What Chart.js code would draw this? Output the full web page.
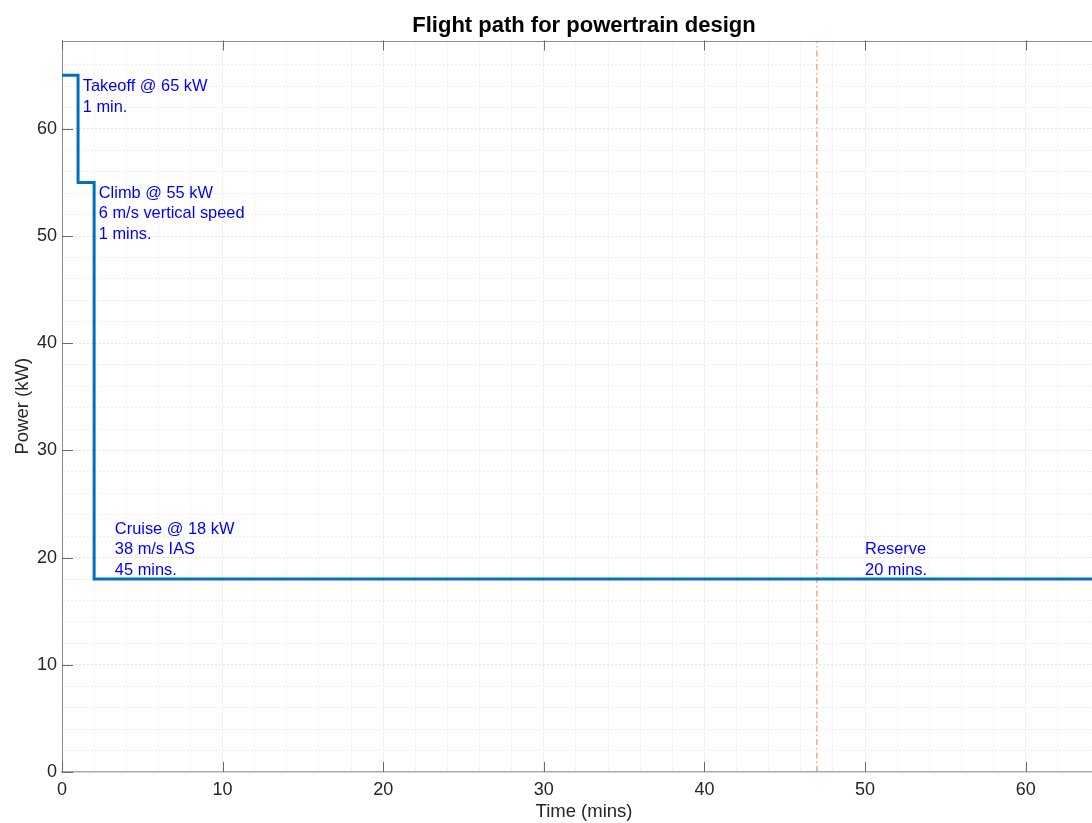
<!DOCTYPE html>
<html>
<head>
<meta charset="utf-8">
<title>Flight path for powertrain design</title>
<script src="https://cdn.jsdelivr.net/npm/chart.js@4.4.1/dist/chart.umd.min.js"></script>
<style>
  html, body { margin: 0; padding: 0; background: #fff; overflow: hidden; }
</style>
</head>
<body>
<canvas id="flightChart" width="1120" height="823"></canvas>
<script>
// Power steps: time (mins) where each level begins, last point closes the trace
const stepTimes = [0, 1, 2, 47, 67];
const stepPower = [65, 55, 18, 18, 18];

// Cruise ends / reserve begins
const reserveTime = 47;

// Labelled major ticks
const xTicks = [0, 10, 20, 30, 40, 50, 60];
const yTicks = [0, 10, 20, 30, 40, 50, 60];

// Phase notes, anchored in data units (left edge, vertical middle of block)
const noteX = [1.29, 2.29, 3.29, 50.0];
const noteY = [63.0, 52.07, 20.74, 19.8];
const noteText = [
    ['Takeoff @ 65 kW', '1 min.'],
    ['Climb @ 55 kW', '6 m/s vertical speed', '1 mins.'],
    ['Cruise @ 18 kW', '38 m/s IAS', '45 mins.'],
    ['Reserve', '20 mins.']
];

const X_MAX = 65;
const Y_MAX = 68.25;
const FONT = "'Liberation Sans', Arial, Helvetica, sans-serif";

Chart.defaults.font.family = FONT;

const flightPoints = stepTimes.map((t, i) => ({ x: t, y: stepPower[i] }));

// faint grid, a bit stronger on the major ticks, none on the frame edges
function gridColor(ctx, max) {
    const v = ctx.tick ? ctx.tick.value : 0;
    if (v <= 0 || v >= max) return 'rgba(0,0,0,0)';
    return v % 10 === 0 ? '#e4e4e4' : '#ededed';
}

// box top edge and inward tick marks
const axesFrame = {
    id: 'axesFrame',
    beforeDatasetsDraw(chart) {
        const { ctx, chartArea: a, scales: { x, y } } = chart;
        ctx.save();
        ctx.lineWidth = 1;
        ctx.strokeStyle = '#8c8c8c';
        ctx.beginPath();
        ctx.moveTo(a.left, Math.round(a.top) + 0.5);
        ctx.lineTo(a.right, Math.round(a.top) + 0.5);
        ctx.stroke();

        ctx.strokeStyle = '#6a6a6a';
        ctx.beginPath();
        xTicks.forEach(v => {
            const px = Math.round(x.getPixelForValue(v)) + 0.5;
            ctx.moveTo(px, a.bottom);
            ctx.lineTo(px, a.bottom - 10);
            ctx.moveTo(px, a.top);
            ctx.lineTo(px, a.top + 10);
        });
        yTicks.forEach(v => {
            const py = Math.round(y.getPixelForValue(v)) + 0.5;
            ctx.moveTo(a.left, py);
            ctx.lineTo(a.left + 11, py);
        });
        ctx.stroke();
        ctx.restore();
    }
};

// blue phase annotations
const phaseNotes = {
    id: 'phaseNotes',
    afterDatasetsDraw(chart) {
        const { ctx, scales: { x, y } } = chart;
        const lineH = 20.5;
        ctx.save();
        ctx.fillStyle = '#0000ff';
        ctx.font = '16.4px ' + FONT;
        ctx.textAlign = 'left';
        ctx.textBaseline = 'middle';
        noteText.forEach((lines, i) => {
            const px = x.getPixelForValue(noteX[i]);
            const cy = y.getPixelForValue(noteY[i]);
            const top = cy - (lines.length - 1) * lineH / 2;
            lines.forEach((txt, j) => ctx.fillText(txt, px, top + j * lineH));
        });
        ctx.restore();
    }
};

const ctx = document.getElementById('flightChart').getContext('2d');
const flightChart = new Chart(ctx, {
    type: 'line',
    data: {
        datasets: [
            {
                label: 'Power',
                data: flightPoints,
                stepped: 'before',
                borderColor: '#0072bd',
                borderWidth: 3,
                borderJoinStyle: 'miter',
                pointRadius: 0,
                fill: false
            },
            {
                label: 'Reserve start',
                data: [{ x: reserveTime, y: 0 }, { x: reserveTime, y: Y_MAX }],
                borderColor: '#e8804f',
                borderWidth: 1,
                borderDash: [6, 3, 1.5, 3],
                pointRadius: 0,
                fill: false
            }
        ]
    },
    options: {
        responsive: false,
        animation: false,
        layout: { padding: { left: 0, right: 14, top: 0, bottom: 0 } },
        plugins: {
            legend: { display: false },
            tooltip: { enabled: false },
            title: {
                display: true,
                fullSize: false,
                text: 'Flight path for powertrain design',
                color: '#000',
                font: { size: 22, weight: 'bold' },
                padding: { top: 12.5, bottom: 1.6 }
            }
        },
        scales: {
            x: {
                type: 'linear',
                min: 0,
                max: X_MAX,
                afterFit: s => { s.height = 51; },
                border: { color: '#ababab', width: 1.5, dash: [2, 2] },
                grid: { color: c => gridColor(c, X_MAX), lineWidth: 1, drawTicks: false },
                ticks: {
                    stepSize: 2,
                    autoSkip: false,
                    maxTicksLimit: 200,
                    maxRotation: 0,
                    padding: 7,
                    color: '#262626',
                    font: { size: 18 },
                    callback: v => (v % 10 === 0 ? v : '')
                },
                title: {
                    display: true,
                    text: 'Time (mins)',
                    color: '#262626',
                    font: { size: 18.5 },
                    padding: { top: 0, bottom: 0 }
                }
            },
            y: {
                min: 0,
                max: Y_MAX,
                afterFit: s => { s.width = 62; },
                border: { color: '#8c8c8c', width: 1, dash: [2, 2] },
                grid: { color: c => gridColor(c, Y_MAX), lineWidth: 1, drawTicks: false },
                ticks: {
                    stepSize: 2,
                    autoSkip: false,
                    maxTicksLimit: 200,
                    padding: 5,
                    color: '#262626',
                    font: { size: 18 },
                    callback: v => (v % 10 === 0 ? v : '')
                },
                title: {
                    display: true,
                    text: 'Power (kW)',
                    color: '#262626',
                    font: { size: 18.5 },
                    padding: { top: 11.4, bottom: 0 }
                }
            }
        }
    },
    plugins: [axesFrame, phaseNotes]
});
</script>
</body>
</html>
